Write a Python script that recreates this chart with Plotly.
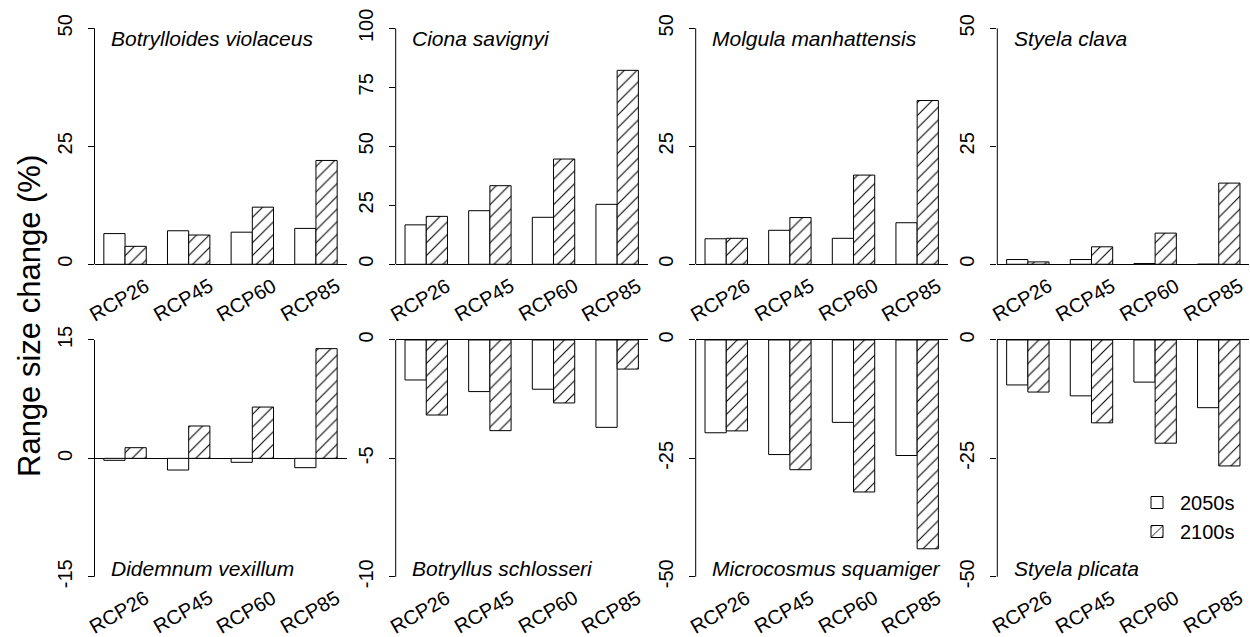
import plotly.graph_objects as go

scenarios = ["RCP26", "RCP45", "RCP60", "RCP85"]
periods = ["2050s", "2100s"]

species = [
    "Botrylloides violaceus", "Ciona savignyi", "Molgula manhattensis", "Styela clava",
    "Didemnum vexillum", "Botryllus schlosseri", "Microcosmus squamiger", "Styela plicata",
]

# range size change (%) for 2050s and 2100s per species
bv_2050 = [6.5, 7.1, 6.8, 7.6]
bv_2100 = [3.8, 6.2, 12.1, 22.0]
cs_2050 = [16.7, 22.7, 19.9, 25.4]
cs_2100 = [20.3, 33.3, 44.6, 82.2]
mm_2050 = [5.4, 7.2, 5.5, 8.8]
mm_2100 = [5.5, 9.9, 18.9, 34.7]
sc_2050 = [1.0, 1.0, 0.15, 0.0]
sc_2100 = [0.5, 3.7, 6.6, 17.2]
dv_2050 = [-0.25, -1.48, -0.5, -1.18]
dv_2100 = [1.35, 4.1, 6.5, 13.9]
bs_2050 = [-1.69, -2.18, -2.08, -3.69]
bs_2100 = [-3.17, -3.83, -2.66, -1.23]
ms_2050 = [-19.6, -24.2, -17.4, -24.4]
ms_2100 = [-19.2, -27.4, -32.1, -44.1]
sp_2050 = [-9.5, -11.8, -8.9, -14.3]
sp_2100 = [-11.0, -17.5, -21.8, -26.6]

series_2050 = [bv_2050, cs_2050, mm_2050, sc_2050, dv_2050, bs_2050, ms_2050, sp_2050]
series_2100 = [bv_2100, cs_2100, mm_2100, sc_2100, dv_2100, bs_2100, ms_2100, sp_2100]

y_limits = [(0, 50), (0, 100), (0, 50), (0, 50), (-15, 15), (-10, 0), (-50, 0), (-50, 0)]
y_ticks = [[0, 25, 50], [0, 25, 50, 75, 100], [0, 25, 50], [0, 25, 50],
           [-15, 0, 15], [-10, -5, 0], [-50, -25, 0], [-50, -25, 0]]
label_top = [True, True, True, True, False, False, False, False]

W, H = 1250, 637
FONT = "Liberation Sans, Arial, sans-serif"

col_px = [(94.5, 346.5), (395.7, 647.7), (695.7, 947.7), (997.3, 1249.3)]
row_px = [(18.9, 273.7), (330.5, 586.2)]

fig = go.Figure()
annotations = []
shapes = []

for i in range(8):
    r, c = divmod(i, 4)
    ax = "" if i == 0 else str(i + 1)
    xa, ya = "x" + ax, "y" + ax
    show = (i == 0)
    fig.add_trace(go.Bar(
        x=scenarios, y=series_2050[i], name=periods[0],
        showlegend=show, xaxis=xa, yaxis=ya,
        marker=dict(color="white", line=dict(color="black", width=1)),
    ))
    fig.add_trace(go.Bar(
        x=scenarios, y=series_2100[i], name=periods[1],
        showlegend=show, xaxis=xa, yaxis=ya,
        marker=dict(color="white", line=dict(color="black", width=1),
                    pattern=dict(shape="/", fgcolor="black", bgcolor="white",
                                 size=9, solidity=0.12, fillmode="replace")),
    ))
    lo, hi = y_limits[i]
    pad = (hi - lo) * 0.04
    x0, x1 = col_px[c]
    y0, y1 = row_px[r]
    fig.layout["xaxis" + ax] = dict(
        domain=[x0 / W, min(x1 / W, 1.0)], anchor=ya, range=[-0.48, 3.48],
        showticklabels=False, ticks="", showline=False, showgrid=False,
        zeroline=False, fixedrange=True, automargin=False,
    )
    fig.layout["yaxis" + ax] = dict(
        domain=[(H - y1) / H, (H - y0) / H], anchor=xa, range=[lo - pad, hi + pad],
        tickvals=y_ticks[i], ticktext=[str(t) for t in y_ticks[i]],
        ticks="outside", ticklen=6, tickcolor="black", tickwidth=1,
        tickangle=-90, tickfont=dict(size=20, color="black", family=FONT),
        ticklabelstandoff=8, automargin=False,
        showline=False, showgrid=False,
        zeroline=True, zerolinecolor="black", zerolinewidth=1,
    )
    # y axis line spanning the tick range only (R style)
    shapes.append(dict(type="line", xref=xa + " domain", yref=ya, x0=0, x1=0,
                       y0=lo, y1=hi, line=dict(color="black", width=1)))
    # species name
    annotations.append(dict(
        text="<i>" + species[i] + "</i>", xref=xa + " domain", yref=ya + " domain",
        x=0.058, y=0.925 if label_top[i] else 0.071, xanchor="left", yanchor="middle",
        showarrow=False, font=dict(size=21, color="black", family=FONT),
    ))
    # rotated category labels
    for s in scenarios:
        annotations.append(dict(
            text=s, xref=xa, yref=ya + " domain", x=s, y=0,
            xanchor="center", yanchor="top", textangle=-30, xshift=-6, yshift=2,
            showarrow=False, font=dict(size=20, color="black", family=FONT),
        ))

annotations.append(dict(
    text="Range size change (%)", xref="paper", yref="paper",
    x=29 / W, y=(H - 316) / H, xanchor="center", yanchor="middle",
    textangle=-90, showarrow=False, font=dict(size=31, color="black", family=FONT),
))

fig.update_layout(
    template="none",
    width=W, height=H,
    margin=dict(l=0, r=0, t=0, b=0, autoexpand=False),
    paper_bgcolor="white", plot_bgcolor="white",
    barmode="group", bargap=1 / 3, bargroupgap=0,
    font=dict(family=FONT, color="black"),
    annotations=annotations, shapes=shapes,
    legend=dict(x=1134 / W, y=(H - 483) / H, xanchor="left", yanchor="top",
                bgcolor="rgba(0,0,0,0)", font=dict(size=20, family=FONT, color="black"),
                tracegroupgap=0, itemwidth=36),
)

fig.write_html("out.html", config={"displayModeBar": False},
               post_script="document.body.style.margin='0';document.body.style.overflow='hidden';")
